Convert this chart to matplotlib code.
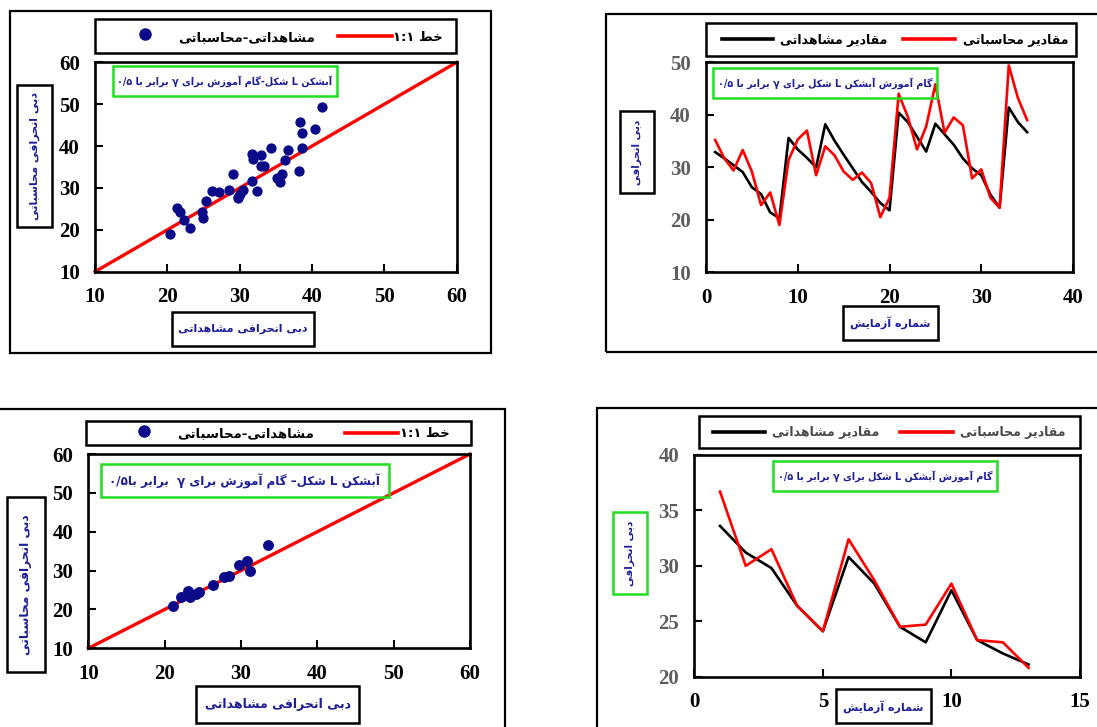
import re
import numpy as np
import matplotlib
matplotlib.use("Agg")
import matplotlib.pyplot as plt
from matplotlib.patches import Rectangle
from matplotlib.lines import Line2D

# ---------------------------------------------------------------- data
# first test series (35 tests): observed and computed deviated discharge
obs_a = [32.9, 31.7, 30.4, 29.1, 26.2, 24.9, 21.4, 20.3, 35.6, 33.4,
         31.8, 30.0, 38.2, 35.1, 32.4, 29.8, 27.2, 25.3, 23.2, 21.8,
         40.4, 38.6, 35.8, 33.0, 38.3, 36.3, 34.3, 31.7, 29.8, 28.5,
         24.8, 22.3, 41.4, 38.6, 36.7]
calc_a = [35.2, 31.7, 29.4, 33.3, 29.2, 22.8, 25.2, 19.0, 31.4, 35.3,
          37.0, 28.5, 34.0, 32.3, 29.2, 27.6, 29.0, 27.0, 20.5, 24.2,
          44.0, 39.6, 33.4, 37.8, 45.8, 36.6, 39.5, 38.0, 27.9, 29.6,
          24.2, 22.3, 49.4, 43.2, 39.0]

# second test series (13 tests)
obs_b = [33.6, 31.2, 29.8, 26.4, 24.1, 30.8, 28.4, 24.5, 23.1, 27.8,
         23.3, 22.1, 21.1]
calc_b = [36.7, 30.0, 31.5, 26.4, 24.1, 32.4, 28.7, 24.5, 24.7, 28.4,
          23.3, 23.1, 20.8]

one_to_one = [10, 60]
scatter_ticks = [10, 20, 30, 40, 50, 60]
line_a_xticks = [0, 10, 20, 30, 40]
line_a_yticks = [10, 20, 30, 40, 50]
line_b_xticks = [0, 5, 10, 15]
line_b_yticks = [20, 25, 30, 35, 40]

# ---------------------------------------------------------------- text
T_SCATTER = "مشاهداتی-محاسباتی"
T_ONE = "خط ۱:۱"
T_OBS = "مقادیر مشاهداتی"
T_CALC = "مقادیر محاسباتی"
T_YCALC = "دبی انحرافی محاسباتی"
T_XOBS = "دبی انحرافی مشاهداتی"
T_YDEV = "دبی انحرافی"
T_XTEST = "شماره آزمایش"
T_NOTE_A = "آبشکن L شکل-گام آموزش برای γ برابر با ۰/۵"
T_NOTE_B = "گام آموزش آبشکن L شکل برای γ برابر با ۰/۵"
T_NOTE_C = "آبشکن L شکل– گام آموزش برای γ  برابر با۰/۵"

# Persian contextual forms: isolated, final, initial, medial
FORMS = {
    'ا': ('\uFE8D', '\uFE8E', None, None),
    'آ': ('\uFE81', '\uFE82', None, None),
    'ب': ('\uFE8F', '\uFE90', '\uFE91', '\uFE92'),
    'ت': ('\uFE95', '\uFE96', '\uFE97', '\uFE98'),
    'ح': ('\uFEA1', '\uFEA2', '\uFEA3', '\uFEA4'),
    'خ': ('\uFEA5', '\uFEA6', '\uFEA7', '\uFEA8'),
    'د': ('\uFEA9', '\uFEAA', None, None),
    'ر': ('\uFEAD', '\uFEAE', None, None),
    'ز': ('\uFEAF', '\uFEB0', None, None),
    'س': ('\uFEB1', '\uFEB2', '\uFEB3', '\uFEB4'),
    'ش': ('\uFEB5', '\uFEB6', '\uFEB7', '\uFEB8'),
    'ط': ('\uFEC1', '\uFEC2', '\uFEC3', '\uFEC4'),
    'ف': ('\uFED1', '\uFED2', '\uFED3', '\uFED4'),
    'ق': ('\uFED5', '\uFED6', '\uFED7', '\uFED8'),
    'ک': ('\uFB8E', '\uFB8F', '\uFB90', '\uFB91'),
    'گ': ('\uFB92', '\uFB93', '\uFB94', '\uFB95'),
    'ل': ('\uFEDD', '\uFEDE', '\uFEDF', '\uFEE0'),
    'م': ('\uFEE1', '\uFEE2', '\uFEE3', '\uFEE4'),
    'ن': ('\uFEE5', '\uFEE6', '\uFEE7', '\uFEE8'),
    'و': ('\uFEED', '\uFEEE', None, None),
    'ه': ('\uFEE9', '\uFEEA', '\uFEEB', '\uFEEC'),
    'ی': ('\uFBFC', '\uFBFD', '\uFBFE', '\uFBFF'),
}
LTR_RUN = re.compile(r'[0-9A-Za-z\u06F0-\u06F9γ](?:[0-9A-Za-z\u06F0-\u06F9γ/:.]*[0-9A-Za-z\u06F0-\u06F9γ])?')


def fa(s):
    """Join Persian letters and lay the string out right-to-left."""
    out = []
    for i, c in enumerate(s):
        if c not in FORMS:
            out.append(c)
            continue
        prev = s[i - 1] if i > 0 else ''
        nxt = s[i + 1] if i + 1 < len(s) else ''
        jp = prev in FORMS and FORMS[prev][2] is not None
        jn = FORMS[c][2] is not None and nxt in FORMS
        iso, fin, ini, med = FORMS[c]
        out.append(med if (jp and jn) else fin if jp else ini if jn else iso)
    vis = ''.join(out)[::-1]
    return LTR_RUN.sub(lambda m: m.group()[::-1], vis)


# ---------------------------------------------------------------- figure
W, H = 1097, 727
fig = plt.figure(figsize=(W / 100, H / 100), dpi=100)
fig.patch.set_facecolor('white')

FA_FONT = ['DejaVu Sans']
NUM_FONT = ['Liberation Serif', 'DejaVu Serif']
NAVY = '#1d1d96'
MARK = '#0b0b8a'
GREEN = '#22dd22'
SPINE_LW = 1.9


def fig_rect(l, t, r, b, ec='black', lw=1.6, zorder=0):
    fig.add_artist(Rectangle((l / W, 1 - b / H), (r - l) / W, (b - t) / H,
                             transform=fig.transFigure, fill=False,
                             ec=ec, lw=lw, zorder=zorder, clip_on=False))


def fig_text(x, y, s, size, color='black', rotation=0, zorder=3):
    fig.text(x / W, 1 - y / H, fa(s), ha='center', va='center',
             fontsize=size, color=color, rotation=rotation,
             family=FA_FONT, weight='bold', zorder=zorder)


def label_box(l, t, r, b, s, size, rotation=0, ec='black', color=NAVY):
    fig_rect(l, t, r, b, ec=ec, lw=1.8, zorder=2)
    fig_text((l + r) / 2, (t + b) / 2, s, size, color=color, rotation=rotation)


def make_axes(l, t, r, b):
    ax = fig.add_axes([l / W, 1 - b / H, (r - l) / W, (b - t) / H])
    ax.set_facecolor('none')
    for sp in ax.spines.values():
        sp.set_linewidth(SPINE_LW)
    ax.tick_params(direction='in', length=6, width=1.5, pad=11,
                   top=False, right=False)
    return ax


def style_ticks(ax, xticks, yticks, ycolor='black', size=15):
    ax.set_xticks(xticks)
    ax.set_yticks(yticks)
    for lab in ax.get_xticklabels():
        lab.set_fontfamily(NUM_FONT)
        lab.set_fontweight('bold')
        lab.set_fontsize(size)
        lab.set_color('black')
    for lab in ax.get_yticklabels():
        lab.set_fontfamily(NUM_FONT)
        lab.set_fontweight('bold')
        lab.set_fontsize(size)
        lab.set_color(ycolor)


def legend_box(l, t, r, b, entries, size, text_color='black'):
    """entries: (kind, color, x0, x1, text_center, text) in pixels"""
    fig_rect(l, t, r, b, lw=1.8, zorder=2)
    yc = (t + b) / 2
    for kind, color, x0, x1, tx, s in entries:
        if kind == 'marker':
            fig.add_artist(Line2D([x0 / W], [1 - (yc - 2) / H], marker='o',
                                  ms=8, color=color, ls='none',
                                  transform=fig.transFigure))
        else:
            fig.add_artist(Line2D([x0 / W, x1 / W], [1 - yc / H] * 2,
                                  color=color, lw=2.6,
                                  transform=fig.transFigure))
        fig_text(tx, yc + 1, s, size, color=text_color)


# ---------------------------------------------------------------- outer frames
fig_rect(9.5, 11, 491, 353.5, lw=1.6)
fig_rect(606, 14, 1110, 352, lw=1.6)
fig_rect(-10, 409.5, 505, 740, lw=1.6)
fig_rect(596.5, 408.5, 1110, 740, lw=1.6)

# ---------------------------------------------------------------- top-left: scatter
ax1 = make_axes(95, 62.3, 456.7, 271.7)
ax1.plot(one_to_one, one_to_one, color='#ff0000', lw=2.4, zorder=2, clip_on=False)
ax1.scatter(obs_a, calc_a, s=55, color=MARK, zorder=3, linewidths=0)
ax1.set_xlim(10, 60)
ax1.set_ylim(10, 60)
style_ticks(ax1, scatter_ticks, scatter_ticks)
fig_rect(112.7, 66, 336.7, 96, ec=GREEN, lw=1.8, zorder=4)
fig_text(224.7, 81.5, T_NOTE_A, 6.9, color=NAVY, zorder=5)
legend_box(95, 19, 455.7, 53.3,
           [('marker', MARK, 145, 145, 247, T_SCATTER),
            ('line', '#ff0000', 338, 392, 418, T_ONE)], 9.5)
label_box(17.3, 85, 51.7, 226.7, T_YCALC, 8.0, rotation=90)
label_box(171.7, 312.3, 314.3, 345.7, T_XOBS, 8.0)

# ---------------------------------------------------------------- top-right: series
ax2 = make_axes(706, 62.3, 1073, 272.3)
tests_a = np.arange(1, len(obs_a) + 1)
ax2.plot(tests_a, obs_a, color='black', lw=1.9, zorder=2)
ax2.plot(tests_a, calc_a, color='#ff0000', lw=1.9, zorder=3)
ax2.set_xlim(0, 40)
ax2.set_ylim(10, 50)
style_ticks(ax2, line_a_xticks, line_a_yticks, ycolor='#5e5e5e')
fig_rect(713.3, 68.3, 936.7, 97.7, ec=GREEN, lw=1.8, zorder=4)
fig_text(825, 83.5, T_NOTE_B, 6.9, color=NAVY, zorder=5)
legend_box(706, 22.7, 1075.7, 55.7,
           [('line', 'black', 721.7, 773.3, 834, T_OBS),
            ('line', '#ff0000', 902.7, 955, 1016, T_CALC)], 9.0)
label_box(620, 111, 654, 193.3, T_YDEV, 7.5, rotation=90)
label_box(842.7, 306, 938.3, 340, T_XTEST, 8.0)

# ---------------------------------------------------------------- bottom-left: scatter
ax3 = make_axes(88.3, 454, 470, 648.3)
ax3.plot(one_to_one, one_to_one, color='#ff0000', lw=2.4, zorder=2, clip_on=False)
ax3.scatter(obs_b, calc_b, s=62, color=MARK, zorder=3, linewidths=0)
ax3.set_xlim(10, 60)
ax3.set_ylim(10, 60)
style_ticks(ax3, scatter_ticks, scatter_ticks)
fig_rect(100.7, 464.3, 389, 497.3, ec=GREEN, lw=1.8, zorder=4)
fig_text(244.8, 481, T_NOTE_C, 8.6, color=NAVY, zorder=5)
legend_box(86, 420.7, 471, 445,
           [('marker', MARK, 144, 144, 246, T_SCATTER),
            ('line', '#ff0000', 345, 398, 425, T_ONE)], 9.5)
label_box(6.7, 497, 45, 671.7, T_YCALC, 8.8, rotation=90)
label_box(196, 685.7, 359.3, 723.3, T_XOBS, 9.0)

# ---------------------------------------------------------------- bottom-right: series
ax4 = make_axes(694.3, 455, 1080, 676.7)
tests_b = np.arange(1, len(obs_b) + 1)
ax4.plot(tests_b, obs_b, color='black', lw=1.9, zorder=2)
ax4.plot(tests_b, calc_b, color='#ff0000', lw=1.9, zorder=3)
ax4.set_xlim(0, 15)
ax4.set_ylim(20, 40)
style_ticks(ax4, line_b_xticks, line_b_yticks, ycolor='#5e5e5e')
fig_rect(773.3, 461, 997.3, 490.7, ec=GREEN, lw=1.8, zorder=4)
fig_text(885.3, 476, T_NOTE_B, 6.9, color=NAVY, zorder=5)
legend_box(699.3, 415.7, 1080, 447.7,
           [('line', 'black', 712.7, 765, 826, T_OBS),
            ('line', '#ff0000', 900, 953.3, 1013, T_CALC)], 9.0,
           text_color='#4a4a4a')
label_box(613.3, 511.7, 647.3, 594.3, T_YDEV, 7.5, rotation=90, ec=GREEN)
label_box(836, 689.3, 930.7, 723.3, T_XTEST, 8.0)

fig.savefig('out.png', dpi=100, facecolor='white')
